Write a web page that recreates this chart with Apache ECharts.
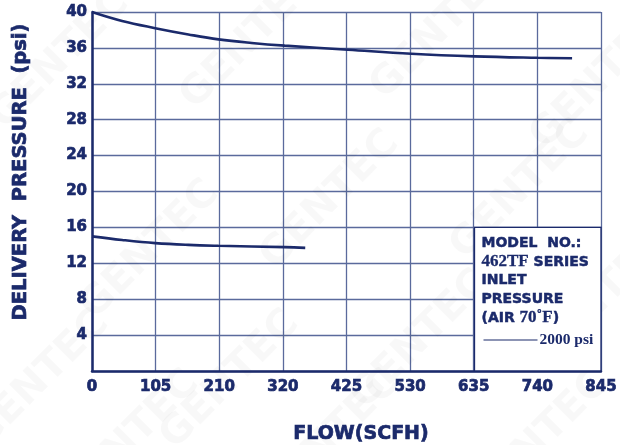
<!DOCTYPE html>
<html>
<head>
<meta charset="utf-8">
<script src="https://cdn.jsdelivr.net/npm/echarts@6/dist/echarts.min.js"></script>
<style>
  html, body { margin: 0; padding: 0; background: #fff; }
  #chart { width: 620px; height: 445px; }
</style>
</head>
<body>
<div id="chart"></div>
<script>
// flow ticks are evenly spaced, labels are the printed (rounded) values
var flowTicks = ['0', '105', '210', '320', '425', '530', '635', '740', '845'];
var flowMax = 845;
var pressureMax = 40;
var pressureStep = 4;

// 2000 psi inlet, upper curve
var upperFlow = [0, 50, 105, 160, 210, 265, 320, 425, 530, 635, 740, 797];
var upperPsi = [40, 39.0, 38.2, 37.5, 36.95, 36.55, 36.25, 35.8, 35.35, 35.06, 34.9, 34.85];

// lower curve
var lowerFlow = [0, 50, 105, 160, 210, 320, 354];
var lowerPsi = [15.0, 14.6, 14.25, 14.05, 13.95, 13.8, 13.72];

var navy = '#1b2a6b';
var gridClr = '#5a6a9c';
var boldFont = '"DejaVu Sans", Verdana, sans-serif';
var serifFont = '"Liberation Serif", "DejaVu Serif", serif';

function zip(xs, ys) {
  return xs.map(function(x, i) { return [x, ys[i]]; });
}

var step = flowMax / (flowTicks.length - 1);

var chart = echarts.init(document.getElementById('chart'), null, { renderer: 'canvas' });

var heavy = { fill: navy, stroke: navy, lineWidth: 0.7 };

var watermarks = [];
[[60, 60], [250, 40], [440, 30], [600, 80], [150, 250], [330, 200], [520, 190],
 [40, 380], [230, 380], [420, 340], [600, 300], [130, 440], [330, 440], [540, 440]].forEach(function(p) {
  watermarks.push({
    type: 'text', x: p[0], y: p[1], rotation: Math.PI / 4, z: 0, silent: true,
    style: { text: 'GENTEC', fill: 'rgba(0,0,0,0.028)', font: 'bold 40px ' + boldFont, align: 'center', verticalAlign: 'middle' }
  });
});

var titles = [
  {
    type: 'text', x: 21, y: 172, rotation: Math.PI / 2, z: 10, silent: true,
    style: Object.assign({ text: 'DELIVERY  PRESSURE  (psi)', font: 'bold 19.5px ' + boldFont, align: 'center', verticalAlign: 'middle' }, heavy)
  },
  {
    type: 'text', x: 361, y: 434, z: 10, silent: true,
    style: Object.assign({ text: 'FLOW(SCFH)', font: 'bold 19px ' + boldFont, align: 'center', verticalAlign: 'middle' }, heavy)
  }
];

chart.setOption({
  animation: false,
  backgroundColor: '#fff',
  grid: { left: 92, right: 19, top: 12, bottom: 74 },
  xAxis: {
    type: 'value', min: 0, max: flowMax, interval: step,
    axisLine: { show: true, lineStyle: { color: navy, width: 2.5 } },
    axisTick: { show: false },
    axisLabel: {
      color: navy, fontFamily: boldFont, fontWeight: 'bold', fontSize: 15, margin: 9,
      textBorderColor: navy, textBorderWidth: 0.7,
      formatter: function(v) { return flowTicks[Math.round(v / step)]; }
    },
    splitLine: { show: true, lineStyle: { color: gridClr, width: 1.3 } }
  },
  yAxis: {
    type: 'value', min: 0, max: pressureMax, interval: pressureStep,
    axisLine: { show: true, lineStyle: { color: navy, width: 2.5 } },
    axisTick: { show: false },
    axisLabel: {
      color: navy, fontFamily: boldFont, fontWeight: 'bold', fontSize: 15, margin: 5,
      textBorderColor: navy, textBorderWidth: 0.7,
      formatter: function(v) { return v === 0 ? '' : String(v); }
    },
    splitLine: { show: true, lineStyle: { color: gridClr, width: 1.3 } }
  },
  series: [
    {
      type: 'line', data: zip(upperFlow, upperPsi), smooth: 0.4, symbol: 'none',
      lineStyle: { color: navy, width: 2.6 }, z: 5,
      markArea: {
        silent: true,
        itemStyle: { color: '#fff', borderColor: navy, borderWidth: 1.3 },
        data: [[{ coord: [635, 16] }, { coord: [flowMax, 0] }]]
      }
    },
    {
      type: 'line', data: zip(lowerFlow, lowerPsi), smooth: 0.4, symbol: 'none',
      lineStyle: { color: navy, width: 2.6 }, z: 5
    }
  ]
});

// legend box text, placed relative to the box corner
var corner = chart.convertToPixel({ gridIndex: 0 }, [635, 16]);
var sansBold = 'bold 14px ' + boldFont;
var serifBold = 'bold 17px ' + serifFont;
var boxLines = [
  { y: 243, rich: '{s|MODEL  NO.:}' },
  { y: 262, rich: '{r|462TF}{s| SERIES}' },
  { y: 280, rich: '{s|INLET}' },
  { y: 299, rich: '{s|PRESSURE}' },
  { y: 318, rich: '{s|(AIR }{r|70˚F}{s|)}' }
];
var texts = boxLines.map(function(l) {
  return {
    type: 'text', x: corner[0] + 7, y: l.y, z: 10, silent: true,
    style: {
      text: l.rich, verticalAlign: 'middle',
      rich: {
        s: Object.assign({ font: sansBold }, heavy, { lineWidth: 0.5 }),
        r: { font: serifBold, fill: navy, stroke: navy, lineWidth: 0.3 }
      }
    }
  };
});
texts.push({
  type: 'line', z: 10, silent: true,
  shape: { x1: corner[0] + 9, y1: 340, x2: corner[0] + 63, y2: 340 },
  style: { stroke: navy, lineWidth: 1.2 }
});
texts.push({
  type: 'text', x: corner[0] + 65, y: 340, z: 10, silent: true,
  style: { text: '2000 psi', fill: navy, font: 'bold 15.5px ' + serifFont, verticalAlign: 'middle' }
});
chart.setOption({ graphic: watermarks.concat(titles, texts) });
</script>
</body>
</html>
